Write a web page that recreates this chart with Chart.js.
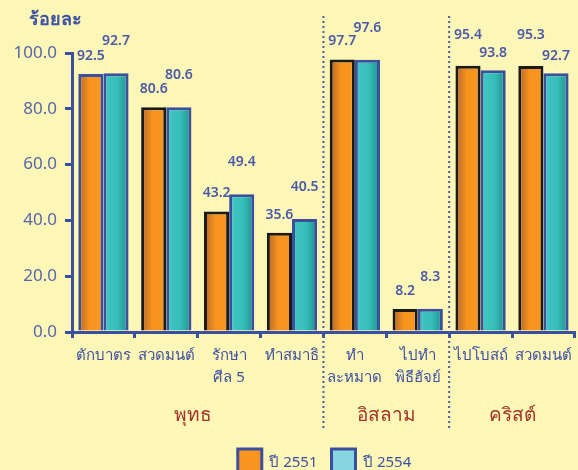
<!DOCTYPE html>
<html><head><meta charset="utf-8">
<script src="https://cdn.jsdelivr.net/npm/chart.js@4/dist/chart.umd.min.js"></script>
<style>html,body{margin:0;padding:0;background:#FDF7B7;overflow:hidden;}
#wrap{width:578px;height:487px;}</style></head>
<body><div id="wrap"><canvas id="c" width="578" height="487"></canvas></div>
<script>
// ---- data ----
const categories = ['ตักบาตร','สวดมนต์',['รักษา','ศีล 5'],'ทำสมาธิ',['ทำ','ละหมาด'],['ไปทำ','พิธีฮัจย์'],'ไปโบสถ์','สวดมนต์'];
const seriesNames = ['ปี 2551','ปี 2554'];
const values2551 = [92.5, 80.6, 43.2, 35.6, 97.7, 8.2, 95.4, 95.3];
const values2554 = [92.7, 80.6, 49.4, 40.5, 97.6, 8.3, 93.8, 92.7];
const groupNames = ['พุทธ','อิสลาม','คริสต์'];
const groupSizes = [4, 2, 2];
const yTickValues = [0, 20, 40, 60, 80, 100];
const yAxisTitle = 'ร้อยละ';

// ---- style ----
const FONT = 'Tahoma, "Noto Sans", "DejaVu Sans", sans-serif';
const BLUE = '#3F51A3';
const TICKBLUE = '#5566AB';
const RED = '#A2342A';
const CAT_PCT = 0.8;

function makeGrad(ctx, i, left, right, legend) {
  const g = ctx.createLinearGradient(left, 0, right, 0);
  if (i === 0) {
    g.addColorStop(0, '#B2652A');
    g.addColorStop(0.45, '#F7941E');
    g.addColorStop(1, '#F8961F');
  } else if (legend) {
    g.addColorStop(0, '#4DB8C2');
    g.addColorStop(0.5, '#74CDD9');
    g.addColorStop(1, '#86D5E0');
  } else {
    g.addColorStop(0, '#43C7C3');
    g.addColorStop(0.55, '#36BEBA');
    g.addColorStop(1, '#1F8F8C');
  }
  return g;
}
function barBg(i) {
  return function(c) {
    const chart = c.chart, xs = chart.scales.x;
    if (!chart.chartArea || !xs || c.type !== 'data') return i === 0 ? '#F7941E' : '#36BEBA';
    const center = xs.getPixelForValue(c.dataIndex);
    const bw = xs.width / categories.length * CAT_PCT / 2;
    const left = i === 0 ? center - bw : center;
    return makeGrad(chart.ctx, i, left, left + bw, false);
  };
}

const decor = {
  id: 'decor',
  afterLayout(chart) {
    if (chart.legend) { chart.legend.left += 72; }
  },
  afterDraw(chart) {
    const ctx = chart.ctx, xs = chart.scales.x;
    ctx.save();
    // title
    ctx.fillStyle = BLUE;
    ctx.font = 'bold 18px ' + FONT;
    ctx.textAlign = 'left'; ctx.textBaseline = 'middle';
    ctx.fillText(yAxisTitle, 29, 20);
    // separators + group labels
    const step = xs.width / categories.length;
    let start = 0;
    groupNames.forEach((name, gi) => {
      const end = start + groupSizes[gi] - 1;
      const cx = (xs.getPixelForValue(start) + xs.getPixelForValue(end)) / 2;
      ctx.fillStyle = RED;
      ctx.font = '19px ' + FONT;
      ctx.textAlign = 'center';
      ctx.fillText(name, gi === 0 ? cx - 5 : cx, 416);
      if (gi > 0) {
        const bx = xs.getPixelForValue(start) - step / 2;
        ctx.strokeStyle = '#4A5AA8';
        ctx.lineWidth = 2;
        ctx.setLineDash([2, 3]);
        ctx.beginPath(); ctx.moveTo(bx, 16); ctx.lineTo(bx, 429); ctx.stroke();
        ctx.setLineDash([]);
      }
      start = end + 1;
    });
    // value labels
    ctx.font = '600 14px ' + FONT;
    ctx.fillStyle = '#4A5AA8';
    ctx.textAlign = 'center'; ctx.textBaseline = 'middle';
    const m0 = chart.getDatasetMeta(0), m1 = chart.getDatasetMeta(1);
    for (let k = 0; k < categories.length; k++) {
      const a = values2551[k], b = values2554[k];
      const orangeHigh = a - b > 1;
      const lifts = orangeHigh ? [31, 17] : [18, 32];
      [m0, m1].forEach((m, di) => {
        const el = m.data[k];
        const v = di === 0 ? a : b;
        ctx.fillText(v.toFixed(1), el.x, el.y - lifts[di]);
      });
    }
    ctx.restore();
  }
};

const chart = new Chart(document.getElementById('c'), {
  type: 'bar',
  data: {
    labels: categories,
    datasets: [
      { label: seriesNames[0], data: values2551, backgroundColor: barBg(0),
        borderColor: values2551.map((v, i) => i === 0 ? '#3B4FA0' : '#1A1A1A'),
        borderWidth: 3, borderSkipped: 'bottom' },
      { label: seriesNames[1], data: values2554, backgroundColor: barBg(1),
        borderColor: '#3B4FA0', borderWidth: 3, borderSkipped: 'bottom' }
    ]
  },
  options: {
    responsive: false, animation: false,
    categoryPercentage: CAT_PCT, barPercentage: 1.0,
    layout: { padding: { top: 53, right: 1, left: 0, bottom: 0 } },
    plugins: {
      tooltip: { enabled: false },
      legend: {
        position: 'bottom',
        labels: {
          boxWidth: 24, boxHeight: 28, padding: 14,
          color: BLUE, font: { family: FONT, size: 15 },
          generateLabels(ch) {
            const base = Chart.defaults.plugins.legend.labels.generateLabels(ch);
            const hbs = ch.legend && ch.legend.legendHitBoxes;
            base.forEach((it, i) => {
              it.strokeStyle = '#3B4FA0'; it.lineWidth = 3;
              if (hbs && hbs[i]) it.fillStyle = makeGrad(ch.ctx, i, hbs[i].left, hbs[i].left + 24, true);
              else it.fillStyle = i === 0 ? '#F7941E' : '#74CDD9';
            });
            return base;
          }
        }
      }
    },
    scales: {
      x: {
        grid: { offset: true, drawOnChartArea: false, drawTicks: true, tickLength: 6, color: '#3B4FA0', lineWidth: 3 },
        border: { color: '#3B4FA0', width: 3 },
        ticks: { color: BLUE, font: { family: FONT, size: 15, lineHeight: 1.5 }, padding: 6, maxRotation: 0, autoSkip: false },
        afterFit(s) { s.height = 103; }
      },
      y: {
        min: 0, max: 100,
        afterBuildTicks(s) { s.ticks = yTickValues.map(v => ({ value: v })); },
        grid: { drawOnChartArea: false, drawTicks: true, tickLength: 7, color: '#3B4FA0', lineWidth: 3 },
        border: { color: '#3B4FA0', width: 3 },
        ticks: { color: TICKBLUE, font: { family: FONT, size: 17 }, padding: 8, callback: v => Number(v).toFixed(1) },
        afterFit(s) { s.width = 72; }
      }
    }
  },
  plugins: [decor]
});
chart.update('none');
</script></body></html>
